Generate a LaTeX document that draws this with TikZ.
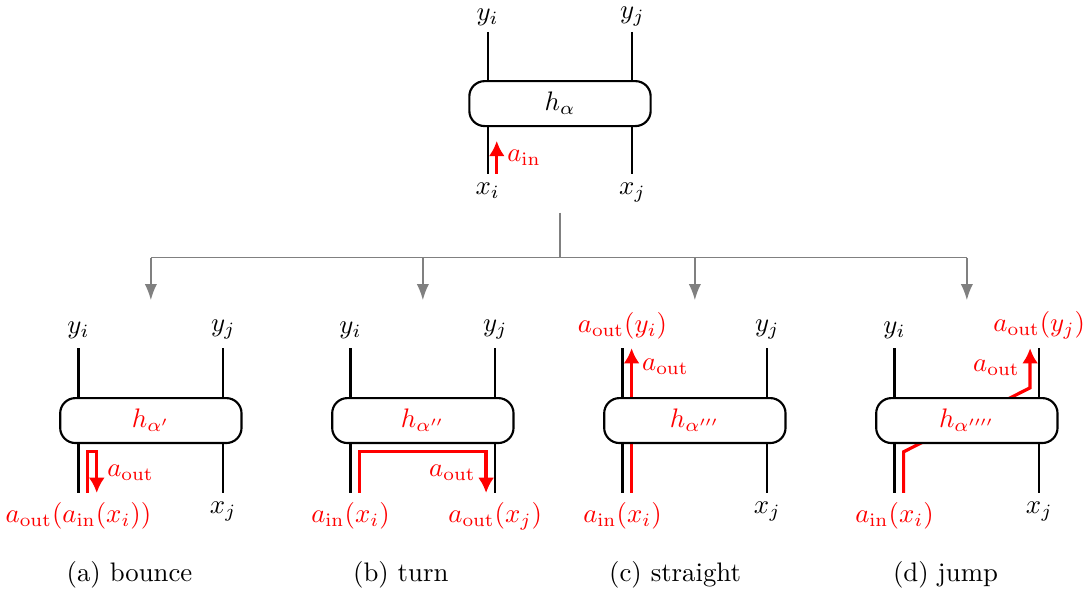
\documentclass[tikz,border=0pt]{standalone}
\usepackage{amsmath}
\usetikzlibrary{arrows.meta,calc}

\begin{document}
\begin{tikzpicture}[
    cell/.style={draw, thick, fill=white, rounded corners=2mm, minimum width=2.38cm, minimum height=0.59cm},
    wire/.style={thick},
    flow/.style={red, very thick, -{Latex[length=2mm,width=2.1mm]}},
    branch/.style={gray, semithick},
    forkarrow/.style={branch, -{Latex[length=2.1mm,width=1.6mm]}}
]
\useasboundingbox (0,0) rectangle (14.28,7.8);

% Top cell
\node[cell] (top) at (7.35,6.44) {$h_\alpha$};
\node[above, inner sep=2pt] (tyi) at (6.40,7.38) {$y_i$};
\node[above, inner sep=2pt] (tyj) at (8.30,7.38) {$y_j$};
\node[below] (txi) at (6.40,5.52) {$x_i$};
\node[below] (txj) at (8.30,5.52) {$x_j$};
\draw[wire] (tyi.south) -- (tyi.south |- top.north);
\draw[wire] (tyj.south) -- (tyj.south |- top.north);
\draw[wire] (txi.north) -- (txi.north |- top.south);
\draw[wire] (txj.north) -- (txj.north |- top.south);
\draw[flow] ($(txi.north)+(0.12,0)$) -- ++(0,0.43) node[midway,right] {$a_{\mathrm{in}}$};

% Tree
\coordinate (stem) at (7.35,5.01);
\coordinate (fork) at (7.35,4.42);
\draw[branch] (stem) -- (fork);
\draw[branch] (1.98,4.42) -- (12.69,4.42);
\foreach \x in {1.98,5.55,9.12,12.69}
    \draw[forkarrow] (\x,4.42) -- (\x,3.86);

% (a) bounce
\begin{scope}[xshift=1.98cm]
\node[above] (ayi) at (-0.95,3.23) {$y_i$};
\node[above] (ayj) at (0.95,3.23) {$y_j$};
\node[below, red] (axi) at (-0.95,1.33) {$a_{\mathrm{out}}(a_{\mathrm{in}}(x_i))$};
\node[below] (axj) at (0.95,1.33) {$x_j$};
\draw[flow] ($(axi.north)+(0.12,0)$) -- ++(0,0.54) -- ++(0.12,0) -- ++(0,-0.54) node[midway,right] {$a_{\mathrm{out}}$};
\node[cell, text=red] (boxa) at (0,2.28) {$h_{\alpha'}$};
\draw[wire] (ayi.south) -- (ayi.south |- boxa.north);
\draw[wire] (ayj.south) -- (ayj.south |- boxa.north);
\draw[wire] (axi.north) -- (axi.north |- boxa.south);
\draw[wire] (axj.north) -- (axj.north |- boxa.south);
\node (capa) at (-0.28,0.25) {(a) bounce};
\end{scope}

% (b) turn
\begin{scope}[xshift=5.55cm]
\node[above] (byi) at (-0.95,3.23) {$y_i$};
\node[above] (byj) at (0.95,3.23) {$y_j$};
\node[below, red] (bxi) at (-0.95,1.33) {$a_{\mathrm{in}}(x_i)$};
\node[below, red] (bxj) at (0.95,1.33) {$a_{\mathrm{out}}(x_j)$};
\draw[flow] ($(bxi.north)+(0.12,0)$) -- ++(0,0.54) -| ($(bxj.north)+(-0.12,0)$) node[pos=0.75,left] {$a_{\mathrm{out}}$};
\node[cell, text=red] (boxb) at (0,2.28) {$h_{\alpha''}$};
\draw[wire] (byi.south) -- (byi.south |- boxb.north);
\draw[wire] (byj.south) -- (byj.south |- boxb.north);
\draw[wire] (bxi.north) -- (bxi.north |- boxb.south);
\draw[wire] (bxj.north) -- (bxj.north |- boxb.south);
\node (capb) at (-0.29,0.25) {(b) turn};
\end{scope}

% (c) straight
\begin{scope}[xshift=9.12cm]
\node[above, red] (cyi) at (-0.95,3.23) {$a_{\mathrm{out}}(y_i)$};
\node[above] (cyj) at (0.95,3.23) {$y_j$};
\node[below, red] (cxi) at (-0.95,1.33) {$a_{\mathrm{in}}(x_i)$};
\node[below] (cxj) at (0.95,1.33) {$x_j$};
\draw[flow] ($(cxi.north)+(0.12,0)$) -- ($(cyi.south)+(0.12,0)$) node[pos=0.87,right] {$a_{\mathrm{out}}$};
\node[cell, text=red] (boxc) at (0,2.28) {$h_{\alpha'''}$};
\draw[wire] (cyi.south) -- (cyi.south |- boxc.north);
\draw[wire] (cyj.south) -- (cyj.south |- boxc.north);
\draw[wire] (cxi.north) -- (cxi.north |- boxc.south);
\draw[wire] (cxj.north) -- (cxj.north |- boxc.south);
\node (capc) at (-0.26,0.25) {(c) straight};
\end{scope}

% (d) jump
\begin{scope}[xshift=12.69cm]
\node[above] (dyi) at (-0.95,3.23) {$y_i$};
\node[above, red] (dyj) at (0.95,3.23) {$a_{\mathrm{out}}(y_j)$};
\node[below, red] (dxi) at (-0.95,1.33) {$a_{\mathrm{in}}(x_i)$};
\node[below] (dxj) at (0.95,1.33) {$x_j$};
\draw[flow] ($(dxi.north)+(0.12,0)$) -- ++(0,0.54) -- ($(dyj.south)+(-0.12,-0.52)$) -- ($(dyj.south)+(-0.12,0)$) node[midway,left] {$a_{\mathrm{out}}$};
\node[cell, text=red] (boxd) at (0,2.28) {$h_{\alpha''''}$};
\draw[wire] (dyi.south) -- (dyi.south |- boxd.north);
\draw[wire] (dyj.south) -- (dyj.south |- boxd.north);
\draw[wire] (dxi.north) -- (dxi.north |- boxd.south);
\draw[wire] (dxj.north) -- (dxj.north |- boxd.south);
\node (capd) at (-0.28,0.25) {(d) jump};
\end{scope}
\end{tikzpicture}
\end{document}
